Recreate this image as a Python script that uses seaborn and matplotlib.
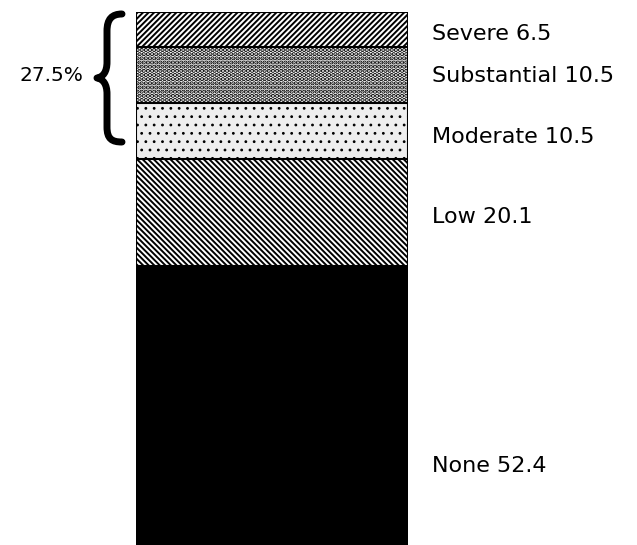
import numpy as np
import pandas as pd
import matplotlib
matplotlib.use("Agg")
import matplotlib.pyplot as plt
from matplotlib.path import Path
from matplotlib.patches import PathPatch
import seaborn as sns

# severity levels, top of the bar first
levels = ["Severe", "Substantial", "Moderate", "Low", "None"]
percents = [6.5, 10.5, 10.5, 20.1, 52.4]
bracket_label = "27.5%"

hatches = ["//////", "....", "..", "\\\\\\\\\\\\", ""]
hatch_lw = [1.4, 2.2, 0.8, 1.4, 1.0]
faces = ["white", "white", "#eeeeee", "white", "black"]
label_y = [95.9, 88.0, 76.5, 61.5, 14.8]

sns.set_style("white")
plt.rcParams["font.family"] = ["DejaVu Sans"]
plt.rcParams["text.color"] = "black"

fig = plt.figure(figsize=(6.37, 5.45), dpi=100)
ax = fig.add_axes([136 / 637, 0.0, 272 / 637, 1 - 12 / 545])

# cumulative tops, drawn largest first so each smaller bar sits over the last
tops = np.cumsum(percents[::-1])[::-1]
for lvl, top, h, fc, hl in zip(levels, tops, hatches, faces, hatch_lw):
    plt.rcParams["hatch.linewidth"] = hl
    df = pd.DataFrame({"grp": ["all"], "val": [top]})
    n_before = len(ax.patches)
    sns.barplot(data=df, x="grp", y="val", color=fc, saturation=1, width=1,
                edgecolor="black", linewidth=1.5, hatch=h, ax=ax)
    for p in ax.patches[n_before:]:
        if hasattr(p, "set_hatch_linewidth"):
            p.set_hatch_linewidth(hl)

ax.set_xlim(-0.5, 0.5)
ax.set_ylim(0, 100)
ax.axis("off")

for lvl, pct, yy in zip(levels, percents, label_y):
    ax.text(1.088, yy, f"{lvl} {pct}", transform=ax.get_yaxis_transform(),
            fontsize=16, fontweight="medium", color="black", va="center", ha="left")

fig.text(51 / 637, 1 - 75 / 545, bracket_label, fontsize=14.5, fontweight="medium",
         color="black", ha="center", va="center")

# curly brace around the top three levels
pts = [(122, 14), (112, 14), (107, 19), (107, 31), (107, 62),
       (107, 72), (103, 77), (97, 78),
       (103, 79), (107, 84), (107, 94), (107, 127),
       (107, 139), (112, 142), (122, 142)]
codes = [Path.MOVETO, Path.CURVE4, Path.CURVE4, Path.CURVE4, Path.LINETO,
         Path.CURVE4, Path.CURVE4, Path.CURVE4,
         Path.CURVE4, Path.CURVE4, Path.CURVE4, Path.LINETO,
         Path.CURVE4, Path.CURVE4, Path.CURVE4]
verts = [(x / 637, 1 - y / 545) for x, y in pts]
fig.patches.append(PathPatch(Path(verts, codes), transform=fig.transFigure,
                             fill=False, lw=5, color="black", capstyle="round",
                             joinstyle="round"))

fig.savefig("out.png", dpi=100)
